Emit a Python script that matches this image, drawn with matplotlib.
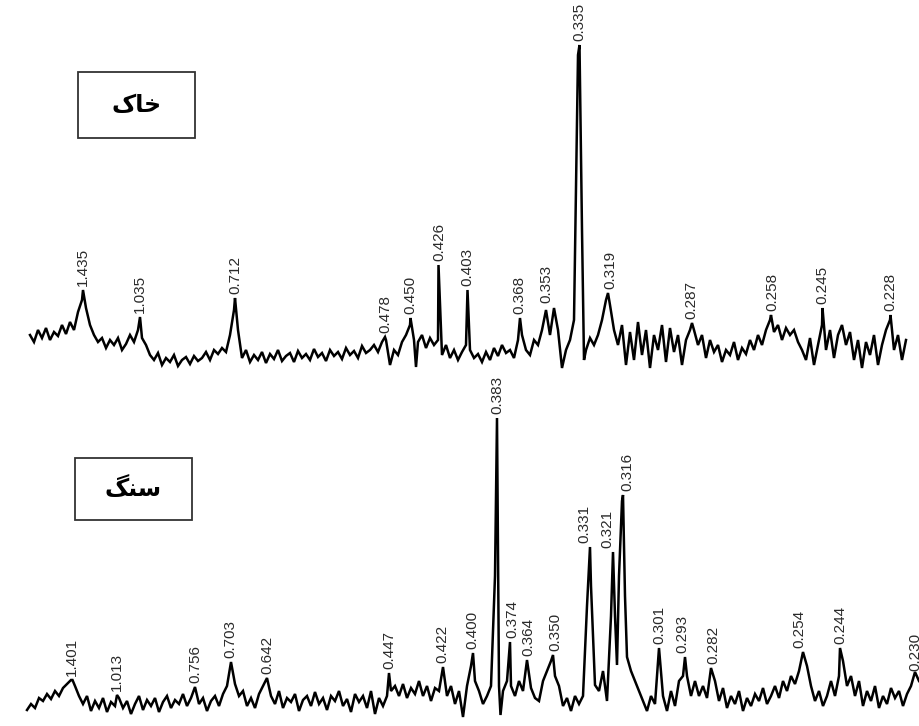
import numpy as np
import matplotlib
matplotlib.use("Agg")
import matplotlib.pyplot as plt
from matplotlib.patches import Rectangle

# ---------------- data ----------------
# Top pattern (soil): regular samples every 4 units starting at 30
top_start, top_step = 30, 4
top_base = [
    45, 38, 50, 42, 52, 40, 48, 44,                      # 30-58
    55, 46, 58, 50, 68,                                  # 62-78
    80, 72, 55,                                          # 82-90
    45, 38, 42, 32, 40, 35, 42, 30, 36,                  # 94-126
    45, 38, 50, 42, 35,                                  # 130-146
    25, 20, 27, 15, 22, 18, 25, 14, 20, 23, 16, 24, 19,  # 150-198
    22, 28, 20, 30, 26, 32, 28, 45,                      # 202-230
    70, 50,                                              # 234-238
    22, 30, 18, 25, 20, 28, 17, 26, 21, 30, 19, 24, 27, 18, 29, 22, 26,
    20, 31, 23, 27, 19, 30, 24, 28, 21, 32, 25, 29, 22, 34, 27, 30,   # 242-370
    35, 28, 38, 40, 15, 30,                              # 374-394
    25, 38, 45, 55, 40,                                  # 398-414
    38, 45, 32, 42, 35,                                  # 418-434
    40,                                                  # 438
    25, 35, 22, 30, 20, 28, 35,                          # 442-466
    30, 22, 26, 18, 28, 20, 32, 24, 35, 27, 30, 22, 40,  # 470-518
    45, 30, 25, 40, 35, 50,                              # 522-542
    70, 45, 72, 50, 12, 30, 40, 60, 325,                 # 546-578
    150,                                                 # 582
    30, 42, 35, 45, 60, 80, 75, 50,                      # 586-614
    35, 55, 15, 48, 20, 58, 25, 50, 12, 45, 30, 55, 18, 52, 28, 45, 15, 40, 50,  # 618-690
    50, 35, 45, 22, 40, 28, 35, 18, 30, 25, 38, 20, 32, 26, 40, 30, 45, 35, 50,  # 694-766
    60, 48, 55, 40, 52, 45, 50, 38,                      # 770-798
    30, 20, 42, 15, 35,                                  # 802-818
    55, 30, 50, 22, 45, 55, 35, 48, 20, 40, 12, 38, 25, 45, 15, 35, 50,  # 822-886
    60, 30, 45, 20, 40,                                  # 890-906
]
# extra samples on the sharp reflections
top_peak_x = [83, 140, 235, 385, 410.5, 416, 438.5, 467.5, 520, 579.5, 584, 608, 692, 771, 822.5, 890.5]
top_peak_y = [90, 63, 82, 43, 62, 13, 115, 90, 62, 335, 20, 87, 57, 65, 72, 65]
# d-spacing labels: text, position, height of the reflection
top_labels = ["1.435", "1.035", "0.712", "0.478", "0.450", "0.426", "0.403", "0.368",
              "0.353", "0.335", "0.319", "0.287", "0.258", "0.245", "0.228"]
top_label_x = [83, 140, 235, 385, 410, 439, 467, 519, 546, 579, 610, 691, 772, 822, 890]
top_label_y = [90, 63, 82, 43, 62, 115, 90, 62, 73, 335, 87, 57, 65, 72, 65]

# Bottom pattern (rock): regular samples every 4 units starting at 27
bot_start, bot_step = 27, 4
bot_base = [
    16, 22, 18, 28, 25, 32, 27, 35, 30,                  # 27-59
    38, 42, 46, 40, 30,                                  # 63-79
    22, 30, 15, 25, 18, 28, 14, 24, 20,                  # 83-115
    28, 18, 25, 12, 22, 30, 16, 26, 20, 28, 14, 24, 30, 18, 26, 22, 32, 20, 28,  # 119-191
    39,                                                  # 195
    22, 28, 15, 25, 30, 20, 32, 40,                      # 199-227
    64,                                                  # 231
    42, 30, 35, 20, 28, 18, 32, 40,                      # 235-263
    48,                                                  # 267
    30, 22, 35, 18, 28, 24, 32, 15, 26, 30, 20, 34, 22, 28, 16,
    30, 25, 35, 20, 27, 14, 32, 24, 30, 18, 35, 12, 28, 20, 30,  # 271-387
    35,                                                  # 391
    40, 30, 42, 28, 38, 32, 45, 30, 40, 25, 38, 35,      # 395-439
    59,                                                  # 443
    30, 40, 22, 35, 9,                                   # 447-463
    40, 60, 45, 35, 22, 30, 40,                          # 467-491
    150, 40,                                             # 495-499
    35, 45,                                              # 503-507
    40, 30, 45, 35, 66, 38, 28, 25, 45, 55, 65,          # 511-551
    50, 40, 20, 28, 15, 30, 22, 30,                      # 555-583
    120, 140, 41, 35, 55, 25, 110, 110, 150, 231, 69,    # 587-627
    55, 45, 35, 25, 15, 30, 22,                          # 631-655
    78,                                                  # 659
    30, 15, 35, 20, 45, 50,                              # 663-683
    50, 30, 45, 30, 40, 28, 58,                          # 687-711
    45, 25, 38, 18, 30, 22, 35, 15, 28, 20, 32, 25, 38, 22, 30, 40, 28, 45, 35, 50, 42, 55,  # 715-799
    74,                                                  # 803
    60, 40, 25, 35, 20, 30, 45, 30, 50,                  # 807-839
    65, 40, 50, 30, 45, 20, 35, 25, 40, 18, 30, 22, 38, 28, 35, 20, 32, 40,  # 843-911
    54, 45,                                              # 915-919
]
bot_peak_x = [72.5, 117, 389, 473, 497, 500.5, 510, 553, 590, 613, 617, 622, 625, 685, 840]
bot_peak_y = [46, 31, 53, 73, 308, 11, 84, 71, 179, 174, 61, 225, 130, 69, 78]
bot_labels = ["1.401", "1.013", "0.756", "0.703", "0.642", "0.447", "0.422", "0.400",
              "0.383", "0.374", "0.364", "0.350", "0.331", "0.321", "0.316", "0.301",
              "0.293", "0.282", "0.254", "0.244", "0.230"]
bot_label_x = [72, 117, 195, 230, 267, 389, 442, 472, 497, 512, 528, 555, 584, 607, 627,
               659, 682, 713, 799, 840, 915]
bot_label_y = [46, 31, 39, 64, 48, 53, 59, 73, 308, 84, 66, 71, 179, 174, 231,
               78, 69, 58, 74, 78, 51]

top_name = "\uFB8E\uFE8E\uFEA7"       # خاک (visual order, presentation forms)
bot_name = "\uFB93\uFEE8\uFEB3"       # سنگ

# ---------------- drawing ----------------
W, H = 920, 726
fig = plt.figure(figsize=(W / 100, H / 100), dpi=100)
fig.patch.set_facecolor("white")

label_font = ["Liberation Sans Narrow", "Liberation Sans", "DejaVu Sans"]


def merged(start, step, base, px, py):
    bx = start + step * np.arange(len(base))
    x = np.concatenate([bx, np.asarray(px, float)])
    y = np.concatenate([np.asarray(base, float), np.asarray(py, float)])
    order = np.argsort(x, kind="stable")
    return x[order], y[order]


def panel(rect, ymax, start, step, base, px, py, labels, lx, ly, name, box):
    ax = fig.add_axes(rect)
    ax.set_xlim(0, W)
    ax.set_ylim(0, ymax)
    ax.axis("off")
    x, y = merged(start, step, base, px, py)
    ax.plot(x, y, color="black", lw=1.8, solid_joinstyle="miter")
    for t, xx, yy in zip(labels, lx, ly):
        ax.text(xx, yy + 4, t, rotation=90, ha="center", va="bottom",
                fontsize=11, color="#2a2a2a", family=label_font, clip_on=False)
    bx, by, bw, bh = box
    ax.add_patch(Rectangle((bx, by), bw, bh, fill=False, edgecolor="#333333", lw=1.3))
    ax.text(bx + bw / 2, by + bh / 2, name, ha="center", va="center",
            fontsize=17, fontweight="bold", family=["DejaVu Sans"], color="black")
    return ax


panel([0, (H - 380) / H, 1, 380 / H], 380, top_start, top_step, top_base,
      top_peak_x, top_peak_y, top_labels, top_label_x, top_label_y, top_name,
      (78, 242, 117, 66))
panel([0, 0, 1, 346 / H], 346, bot_start, bot_step, bot_base,
      bot_peak_x, bot_peak_y, bot_labels, bot_label_x, bot_label_y, bot_name,
      (75, 206, 117, 62))

fig.savefig("out.png", dpi=100, facecolor="white")
